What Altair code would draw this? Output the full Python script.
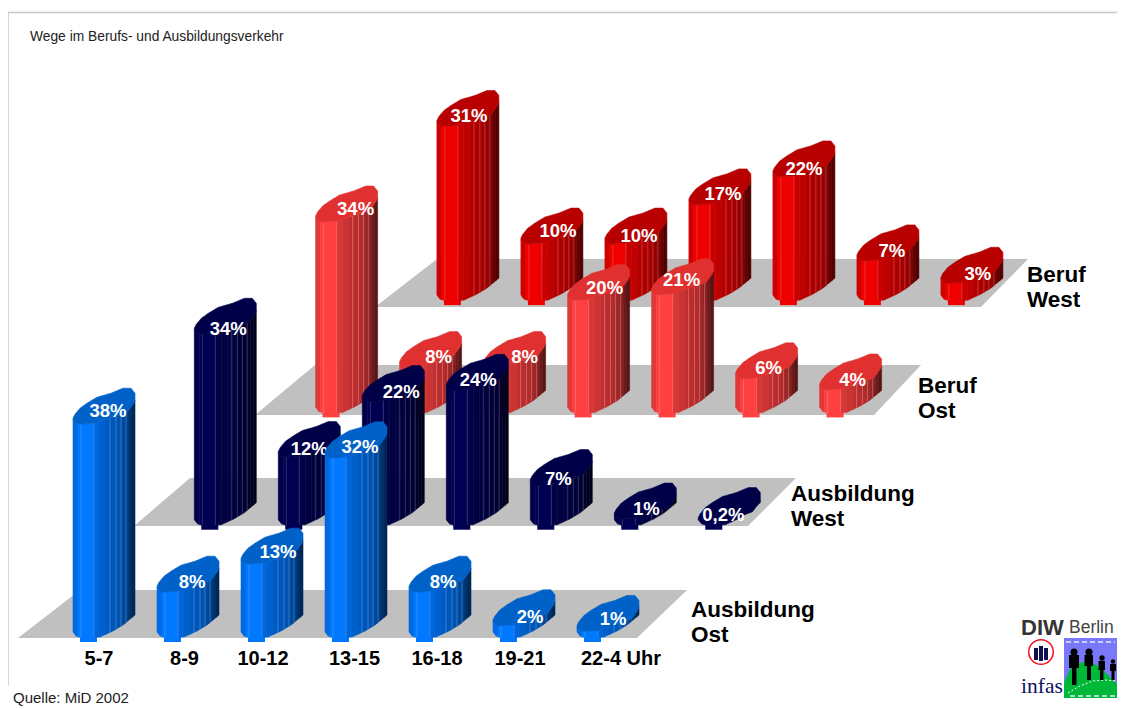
import numpy as np
import pandas as pd
import altair as alt

# ---- chart values (percent of trips)
categories = ["5-7", "8-9", "10-12", "13-15", "16-18", "19-21", "22-4 Uhr"]
ausbildung_ost = [38, 8, 13, 32, 8, 2, 1]
ausbildung_west = [34, 12, 22, 24, 7, 1, 0.2]
beruf_ost = [34, 8, 8, 20, 21, 6, 4]
beruf_west = [31, 10, 10, 17, 22, 7, 3]
series_names = [["Ausbildung", "Ost"], ["Ausbildung", "West"], ["Beruf", "Ost"], ["Beruf", "West"]]
series_values = [ausbildung_ost, ausbildung_west, beruf_ost, beruf_west]
title_text = "Wege im Berufs- und Ausbildungsverkehr"
source_text = "Quelle: MiD 2002"

# ---- styles
base_colors = ["#0078FF", "#000052", "#FF4040", "#EE0000"]
top_colors = ["#0062C8", "#000048", "#E03030", "#B80000"]
floor_color = "#C0C0C0"

# ---- projection of the pseudo-3D scene
ROW_DX, ROW_DY, SLOT_DX = 121.3, 112.3, 84.0
X0, BASE0 = 73.0, 638.0
BAR_W = 62.0
UNIT, MIN_H = 5.6, 7.0
floors = [  # front y, back y, front-left, back-left, front-right, back-right
    (638, 590, 18, 80, 637, 687),
    (526, 478, 134, 190, 748, 796),
    (415, 365, 255, 315, 874, 921),
    (307, 259, 375, 437, 981, 1028),
]
grid = np.arange(0, 62.01, 1.0)
upper = np.interp(grid, [0, 2, 7, 14, 24, 38, 50, 58, 62], [0, -4, -10, -15, -21, -25, -30, -30, -25])
lower = np.interp(grid, [0, 3, 7, 20, 40, 54, 60, 62], [2, 5, 6, 5, -1, -6, -14, -18])
bottom = np.interp(grid, [0, 3, 9, 27, 40, 50, 62], [-6, -2, 0, -1, -7, -13, -23])
stripe_edges = [0, 5, 21, 27, 33, 38, 43, 48, 52, 56, 59, 62]
stripe_shade = [0.88, 1.0, 0.85, 0.80, 0.75, 0.72, 0.68, 0.62, 0.52, 0.42, 0.34]
line_pos = [8, 21, 37, 43, 48, 53]
# per-label placement tweaks inside each bar's top
label_dx = [[35, 35, 37, 35, 34, 37, 36], [34, 31, 39, 32, 28, 32, 25], [40, 39, 41, 37, 30, 33, 33], [32, 37, 34, 34, 31, 35, 37]]
label_dy = [[0, 0, -1, 2, 0, 1, -2], [7, 2, 2, 2, 4, 0, 1], [0, 0, 0, -1, -3, 0, 0], [2, -2, 3, 0, 4, 1, 1]]


def shade(hex_color, f):
    r, g, b = (int(hex_color[i:i + 2], 16) for i in (1, 3, 5))
    return "#%02x%02x%02x" % (round(r * f), round(g * f), round(b * f))


def tint(hex_color, amount):
    r, g, b = (int(hex_color[i:i + 2], 16) for i in (1, 3, 5))
    return "#%02x%02x%02x" % tuple(round(c + (255 - c) * amount) for c in (r, g, b))


sx = alt.Scale(domain=[8, 1117], nice=False, zero=False)
sy = alt.Scale(domain=[709, 8], nice=False, zero=False)
X = alt.X("x:Q", scale=sx, axis=None)
Y = alt.Y("y:Q", scale=sy, axis=None, stack=None)
X2 = alt.X2("x2:Q")
Y2 = alt.Y2("y2:Q")
COL = alt.Color("c:N", scale=None, legend=None)


def text_layer(rows, font="Liberation Sans", **mark):
    return alt.Chart(pd.DataFrame(rows, columns=["x", "y", "t"])).mark_text(font=font, **mark).encode(
        x=X, y=Y, text="t:N"
    )


def rect_layer(rows, color):
    return alt.Chart(pd.DataFrame(rows, columns=["x", "x2", "y", "y2"])).mark_rect(color=color).encode(
        x=X, x2=X2, y=Y, y2=Y2)


layers = []
# frame
layers.append(alt.Chart(pd.DataFrame({"x": [8], "x2": [1117], "y": [12.5]})).mark_rule(color="#C8C8C8", strokeWidth=1.5).encode(x=X, x2=X2, y=Y))
layers.append(alt.Chart(pd.DataFrame({"x": [8], "y": [12], "y2": [686]})).mark_rule(color="#C8C8C8", strokeWidth=1.5).encode(x=X, y=Y, y2=Y2))

for d in [3, 2, 1, 0]:
    fy, by, fl, bl, fr, br = floors[d]
    floor = pd.DataFrame({"y": [by, fy], "x": [bl, fl], "x2": [br, fr]})
    layers.append(alt.Chart(floor).mark_area(orient="horizontal", color=floor_color).encode(
        y=alt.Y("y:Q", scale=sy, axis=None), x=alt.X("x:Q", scale=sx, axis=None, stack=None), x2=X2))

    base = BASE0 - ROW_DY * d
    feet, body, tops, lines, labels = [], [], [], [], []
    for i, v in enumerate(series_values[d]):
        left = X0 + ROW_DX * d + SLOT_DX * i
        y0 = base - (MIN_H + UNIT * v)
        feet.append({"x": left + 7, "x2": left + 24, "y": base - 2, "y2": base + 4})
        front = y0 + lower
        back = np.maximum(base + bottom, front)
        for s, f in enumerate(stripe_shade):
            m = (grid >= stripe_edges[s]) & (grid <= stripe_edges[s + 1])
            col = shade(base_colors[d], f)
            for gx, a, b in zip(grid[m], front[m], back[m]):
                body.append({"x": left + gx, "y": a, "y2": b, "c": col, "k": f"{i}-{s}"})
        for gx, a, b in zip(grid, y0 + upper, front):
            tops.append({"x": left + gx, "y": a, "y2": b, "k": str(i)})
        for p in line_pos:
            a, b = np.interp(p, grid, front), np.interp(p, grid, back)
            if b - a > 3:
                lines.append({"x": left + p, "y": a, "y2": b})
        labels.append({"x": left + label_dx[d][i], "y": y0 - 4 - 0.08 * v + label_dy[d][i],
                       "t": f"{v:g}%".replace(".", ",")})
    layers.append(alt.Chart(pd.DataFrame(feet)).mark_rect(color=base_colors[d]).encode(x=X, x2=X2, y=Y, y2=Y2))
    layers.append(alt.Chart(pd.DataFrame(body)).mark_area(strokeWidth=0.6).encode(
        x=X, y=Y, y2=Y2, color=COL, stroke=alt.Stroke("c:N", scale=None, legend=None), detail="k:N"))
    if lines:
        layers.append(alt.Chart(pd.DataFrame(lines)).mark_rule(color=tint(base_colors[d], 0.35), strokeWidth=0.8, opacity=0.65).encode(x=X, y=Y, y2=Y2))
    layers.append(alt.Chart(pd.DataFrame(tops)).mark_area(color=top_colors[d], stroke=top_colors[d], strokeWidth=0.6).encode(
        x=X, y=Y, y2=Y2, detail="k:N"))
    layers.append(alt.Chart(pd.DataFrame(labels)).mark_text(
        font="Liberation Sans", fontWeight="bold", fontSize=18.5, color="white", align="center", baseline="middle"
    ).encode(x=X, y=Y, text="t:N"))

# category labels
cat_nudge = [26, 27.5, 22, 29.5, 28, 27, 44]
layers.append(text_layer(
    [(X0 + SLOT_DX * i + cat_nudge[i], 658.5, c) for i, c in enumerate(categories)],
    fontWeight="bold", fontSize=20, color="black", align="center", baseline="middle"))

# series labels
name_x = [691, 791, 918, 1027]
name_y = [610, 494, 386, 275]
rows = []
for d, (a, b) in enumerate(series_names):
    rows += [(name_x[d], name_y[d], a), (name_x[d], name_y[d] + 24.5, b)]
layers.append(text_layer(rows, fontWeight="bold", fontSize=22.5, color="black", align="left", baseline="middle"))

layers.append(text_layer([(30, 37, title_text)], fontSize=13.8, color="#222222", align="left", baseline="middle"))
layers.append(text_layer([(13, 698, source_text)], fontSize=15, color="#222222", align="left", baseline="middle"))

# DIW / infas logos
layers.append(text_layer([(1021, 628, "DIW")], fontWeight="bold", fontSize=22, color="#333333", align="left", baseline="middle"))
layers.append(text_layer([(1069, 628, "Berlin")], fontSize=17.5, color="#444444", align="left", baseline="middle"))
layers.append(rect_layer([(1064, 1117, 638, 698)], "#7878F8"))
hill = pd.DataFrame({"x": [1064, 1069, 1075, 1084, 1093, 1102, 1110, 1117],
                     "y": [683, 671, 664, 662, 663, 669, 677, 684], "y2": [698] * 8})
layers.append(alt.Chart(hill).mark_area(color="#00B838").encode(x=X, y=Y, y2=Y2))
arc = pd.DataFrame({"x": [1068, 1080, 1093, 1105, 1117], "y": [693, 686, 681, 680, 681]})
layers.append(alt.Chart(arc).mark_line(color="white", strokeWidth=1, strokeDash=[2, 2]).encode(x=X, y=Y))
dash = pd.DataFrame({"x": [1066, 1070], "x2": [1115, 1115], "y": [642, 696]})
layers.append(alt.Chart(dash).mark_rule(color="#E8E8FF", strokeWidth=1.5, strokeDash=[5, 3]).encode(x=X, x2=X2, y=Y))
# four walking figures: trunk, legs, head
layers.append(rect_layer([(1069, 1079, 655, 668), (1084.5, 1093, 655, 666), (1098.5, 1105, 661, 670), (1110, 1116, 664, 671)], "black"))
layers.append(rect_layer([(1072, 1076.5, 668, 685), (1087, 1091, 666, 680), (1100, 1103.5, 670, 680), (1111.5, 1114.5, 671, 680)], "black"))
heads = pd.DataFrame({"x": [1074, 1089, 1102, 1113], "y": [652, 652, 658, 661.5], "s": [50, 50, 28, 20]})
layers.append(alt.Chart(heads).mark_point(filled=True, shape="circle", color="black", opacity=1).encode(
    x=X, y=Y, size=alt.Size("s:Q", scale=None, legend=None)))
layers.append(alt.Chart(pd.DataFrame({"x": [1041], "y": [652]})).mark_point(shape="circle", size=600, color="#F01020", strokeWidth=1.5, opacity=1).encode(x=X, y=Y))
layers.append(rect_layer([(1034, 1038, 648, 660), (1039, 1043, 646, 661), (1044, 1048, 648, 660)], "#101050"))
layers.append(text_layer([(1021, 687, "infas")], font="Liberation Serif", fontSize=21.5, color="#101060", align="left", baseline="middle"))

chart = alt.layer(*layers).properties(
    width=1109, height=701, padding=0, autosize=alt.AutoSizeParams(type="none"), background="white"
).configure_view(stroke=None)

chart.save("out.html", embed_options={"renderer": "svg", "actions": False})
